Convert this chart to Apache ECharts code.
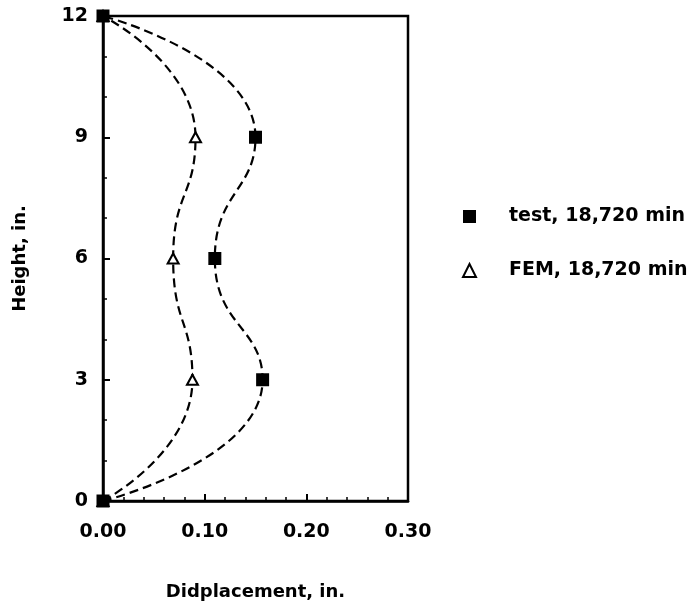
<!DOCTYPE html>
<html>
<head>
<meta charset="utf-8">
<script src="https://cdn.jsdelivr.net/npm/echarts@6/dist/echarts.min.js"></script>
<style>
  html, body { margin: 0; padding: 0; background: #fff; }
  #chart { width: 698px; height: 606px; }
</style>
</head>
<body>
<div id="chart"></div>
<script>
// Wall displacement profile over height
const heights = [0, 3, 6, 9, 12];
const testDisp = [0, 0.157, 0.110, 0.150, 0];
const femDisp = [0, 0.088, 0.069, 0.091, 0];
const xTicks = [0, 0.1, 0.2, 0.3];
const yTicks = [0, 3, 6, 9, 12];
const testName = 'test, 18,720 min';
const femName = 'FEM, 18,720 min';

const pairs = (xs) => xs.map((x, i) => [x, heights[i]]);
const FONT = '"DejaVu Sans", sans-serif';
const FS = 19;

const chart = echarts.init(document.getElementById('chart'));
chart.setOption({
  animation: false,
  backgroundColor: '#fff',
  grid: {
    left: 103, right: 290, top: 16, bottom: 104,
    show: true, borderColor: '#000', borderWidth: 2.5
  },
  xAxis: {
    type: 'value',
    min: xTicks[0], max: xTicks[xTicks.length - 1], interval: 0.1,
    name: 'Didplacement, in.',
    nameLocation: 'middle', nameGap: 82,
    nameTextStyle: { color: '#000', fontFamily: FONT, fontWeight: 'bold', fontSize: 18 },
    axisLine: { lineStyle: { color: '#000', width: 2.5 } },
    axisTick: { inside: true, length: 7, lineStyle: { color: '#000', width: 2 } },
    minorTick: { show: true, splitNumber: 5, length: 4, lineStyle: { color: '#000', width: 1.5 } },
    splitLine: { show: false },
    axisLabel: {
      margin: 22, color: '#000', fontFamily: FONT, fontWeight: 'bold', fontSize: FS,
      formatter: v => v.toFixed(2)
    }
  },
  yAxis: {
    type: 'value',
    min: yTicks[0], max: yTicks[yTicks.length - 1], interval: 3,
    name: 'Height, in.',
    nameLocation: 'middle', nameGap: 74,
    nameTextStyle: { color: '#000', fontFamily: FONT, fontWeight: 'bold', fontSize: 18 },
    axisLine: { lineStyle: { color: '#000', width: 2.5 } },
    axisTick: { inside: true, length: 7, lineStyle: { color: '#000', width: 2 } },
    minorTick: { show: true, splitNumber: 3, length: 4, lineStyle: { color: '#000', width: 1.5 } },
    splitLine: { show: false },
    axisLabel: {
      margin: 15, color: '#000', fontFamily: FONT, fontWeight: 'bold', fontSize: FS
    }
  },
  legend: {
    orient: 'vertical',
    left: 457, top: 202,
    itemWidth: 13, itemHeight: 13, itemGap: 35,
    data: [testName, femName],
    textStyle: {
      color: '#000', fontFamily: FONT, fontWeight: 'bold', fontSize: FS,
      padding: [0, 0, 0, 28]
    }
  },
  series: [
    {
      name: 'femCurve', type: 'line', data: pairs(femDisp),
      smooth: 0.55, showSymbol: false, silent: true,
      lineStyle: { color: '#000', width: 2.2, type: [9, 5] }, z: 2
    },
    {
      name: 'testCurve', type: 'line', data: pairs(testDisp),
      smooth: 0.55, showSymbol: false, silent: true,
      lineStyle: { color: '#000', width: 2.2, type: [9, 5] }, z: 2
    },
    {
      name: femName, type: 'scatter', data: pairs(femDisp),
      symbol: 'triangle', symbolSize: [11, 10],
      itemStyle: { color: '#fff', borderColor: '#000', borderWidth: 2, opacity: 1 }, z: 3
    },
    {
      name: testName, type: 'scatter', data: pairs(testDisp),
      symbol: 'rect', symbolSize: 13,
      itemStyle: { color: '#000', opacity: 1 }, z: 4
    }
  ]
});
</script>
</body>
</html>
